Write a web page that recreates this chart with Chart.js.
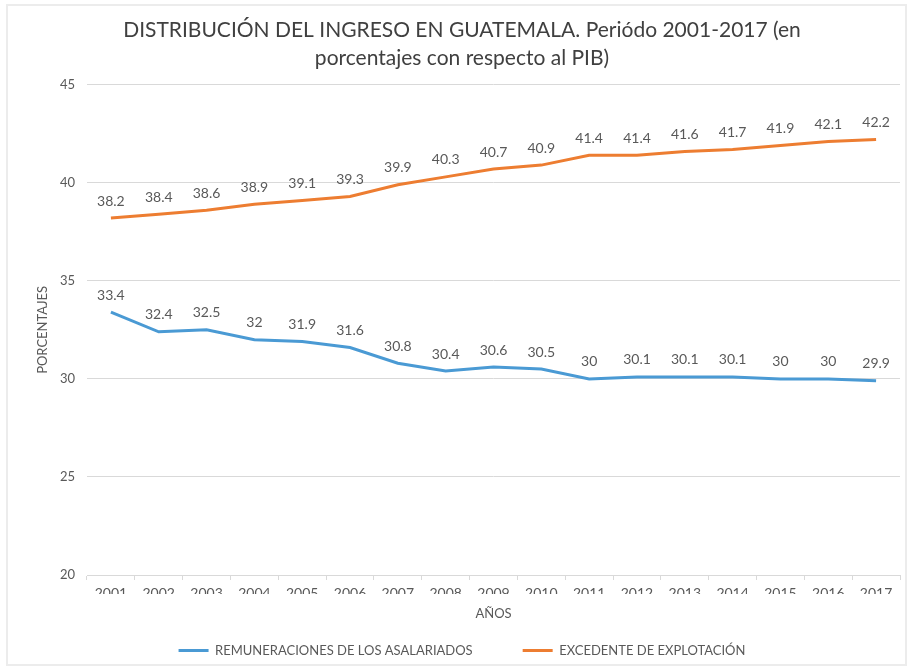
<!DOCTYPE html>
<html>
<head>
<meta charset="utf-8">
<script src="https://cdn.jsdelivr.net/npm/chart.js@4.4.0/dist/chart.umd.min.js"></script>
<style>
  html, body { margin: 0; padding: 0; background: #ffffff; }
  #wrap { position: relative; width: 916px; height: 670px; }
  #frame { position: absolute; left: 6px; top: 4px; width: 901px; height: 662px; border: 2px solid #ececec; box-sizing: border-box; pointer-events: none; }
  canvas { position: absolute; left: 0; top: 0; }
</style>
</head>
<body>
<div id="wrap">
  <canvas id="c" width="916" height="670"></canvas>
  <div id="frame"></div>
</div>
<script>
const years = ['2001','2002','2003','2004','2005','2006','2007','2008','2009','2010','2011','2012','2013','2014','2015','2016','2017'];
const remuneraciones = [33.4, 32.4, 32.5, 32, 31.9, 31.6, 30.8, 30.4, 30.6, 30.5, 30, 30.1, 30.1, 30.1, 30, 30, 29.9];
const excedente = [38.2, 38.4, 38.6, 38.9, 39.1, 39.3, 39.9, 40.3, 40.7, 40.9, 41.4, 41.4, 41.6, 41.7, 41.9, 42.1, 42.2];
const seriesNames = ['REMUNERACIONES DE LOS ASALARIADOS', 'EXCEDENTE DE EXPLOTACIÓN'];
const titleLines = ['DISTRIBUCIÓN DEL INGRESO EN GUATEMALA. Periódo 2001-2017 (en', 'porcentajes con respecto al PIB)'];

const FONT = 'Lato, "Open Sans", sans-serif';
const TXT = '#595959';

const dataLabels = {
  id: 'dataLabels',
  afterDatasetsDraw(chart) {
    const ctx = chart.ctx;
    ctx.save();
    ctx.font = '14px ' + FONT;
    ctx.fillStyle = TXT;
    ctx.textAlign = 'center';
    ctx.textBaseline = 'middle';
    chart.data.datasets.forEach((ds, i) => {
      const meta = chart.getDatasetMeta(i);
      meta.data.forEach((pt, j) => {
        ctx.fillText(String(ds.data[j]), pt.x, pt.y - 17);
      });
    });
    ctx.restore();
  }
};

new Chart(document.getElementById('c'), {
  type: 'line',
  data: {
    labels: years,
    datasets: [
      { label: seriesNames[0], data: remuneraciones, borderColor: '#4a9ad4', backgroundColor: '#4a9ad4', borderWidth: 3, pointRadius: 0, tension: 0 },
      { label: seriesNames[1], data: excedente, borderColor: '#ed7d31', backgroundColor: '#ed7d31', borderWidth: 3, pointRadius: 0, tension: 0 }
    ]
  },
  options: {
    responsive: false,
    animation: false,
    layout: { padding: { left: 24, right: 16, top: 4, bottom: 3 } },
    plugins: {
      title: {
        display: true,
        text: titleLines,
        color: '#404040',
        font: { family: FONT, size: 21, weight: 'normal', lineHeight: 1.35 },
        padding: { top: 12, bottom: 12 }
      },
      legend: {
        position: 'bottom',
        maxHeight: 73,
        labels: {
          font: { family: FONT, size: 13 },
          color: TXT,
          usePointStyle: true,
          pointStyle: 'line',
          pointStyleWidth: 30,
          boxHeight: 13,
          padding: 50
        }
      },
      tooltip: { enabled: false }
    },
    scales: {
      x: {
        offset: true,
        grid: { display: true, drawOnChartArea: false, offset: true, color: '#d9d9d9', tickLength: 5 },
        border: { color: '#d9d9d9' },
        ticks: { color: TXT, font: { family: FONT, size: 14 }, padding: 5, maxRotation: 0 },
        title: { display: true, text: 'AÑOS', color: TXT, font: { family: FONT, size: 13 }, padding: { top: 0, bottom: -28 } },
        afterFit(scale) { scale.height = 19; }
      },
      y: {
        min: 20, max: 45,
        ticks: { stepSize: 5, color: TXT, font: { family: FONT, size: 13 }, padding: 12 },
        grid: { color: '#d9d9d9', drawTicks: false },
        border: { display: false },
        title: { display: true, text: 'PORCENTAJES', color: TXT, font: { family: FONT, size: 13 }, padding: { top: 11, bottom: 0 } },
        afterFit(scale) { scale.width = 63; }
      }
    }
  },
  plugins: [dataLabels]
});
</script>
</body>
</html>
